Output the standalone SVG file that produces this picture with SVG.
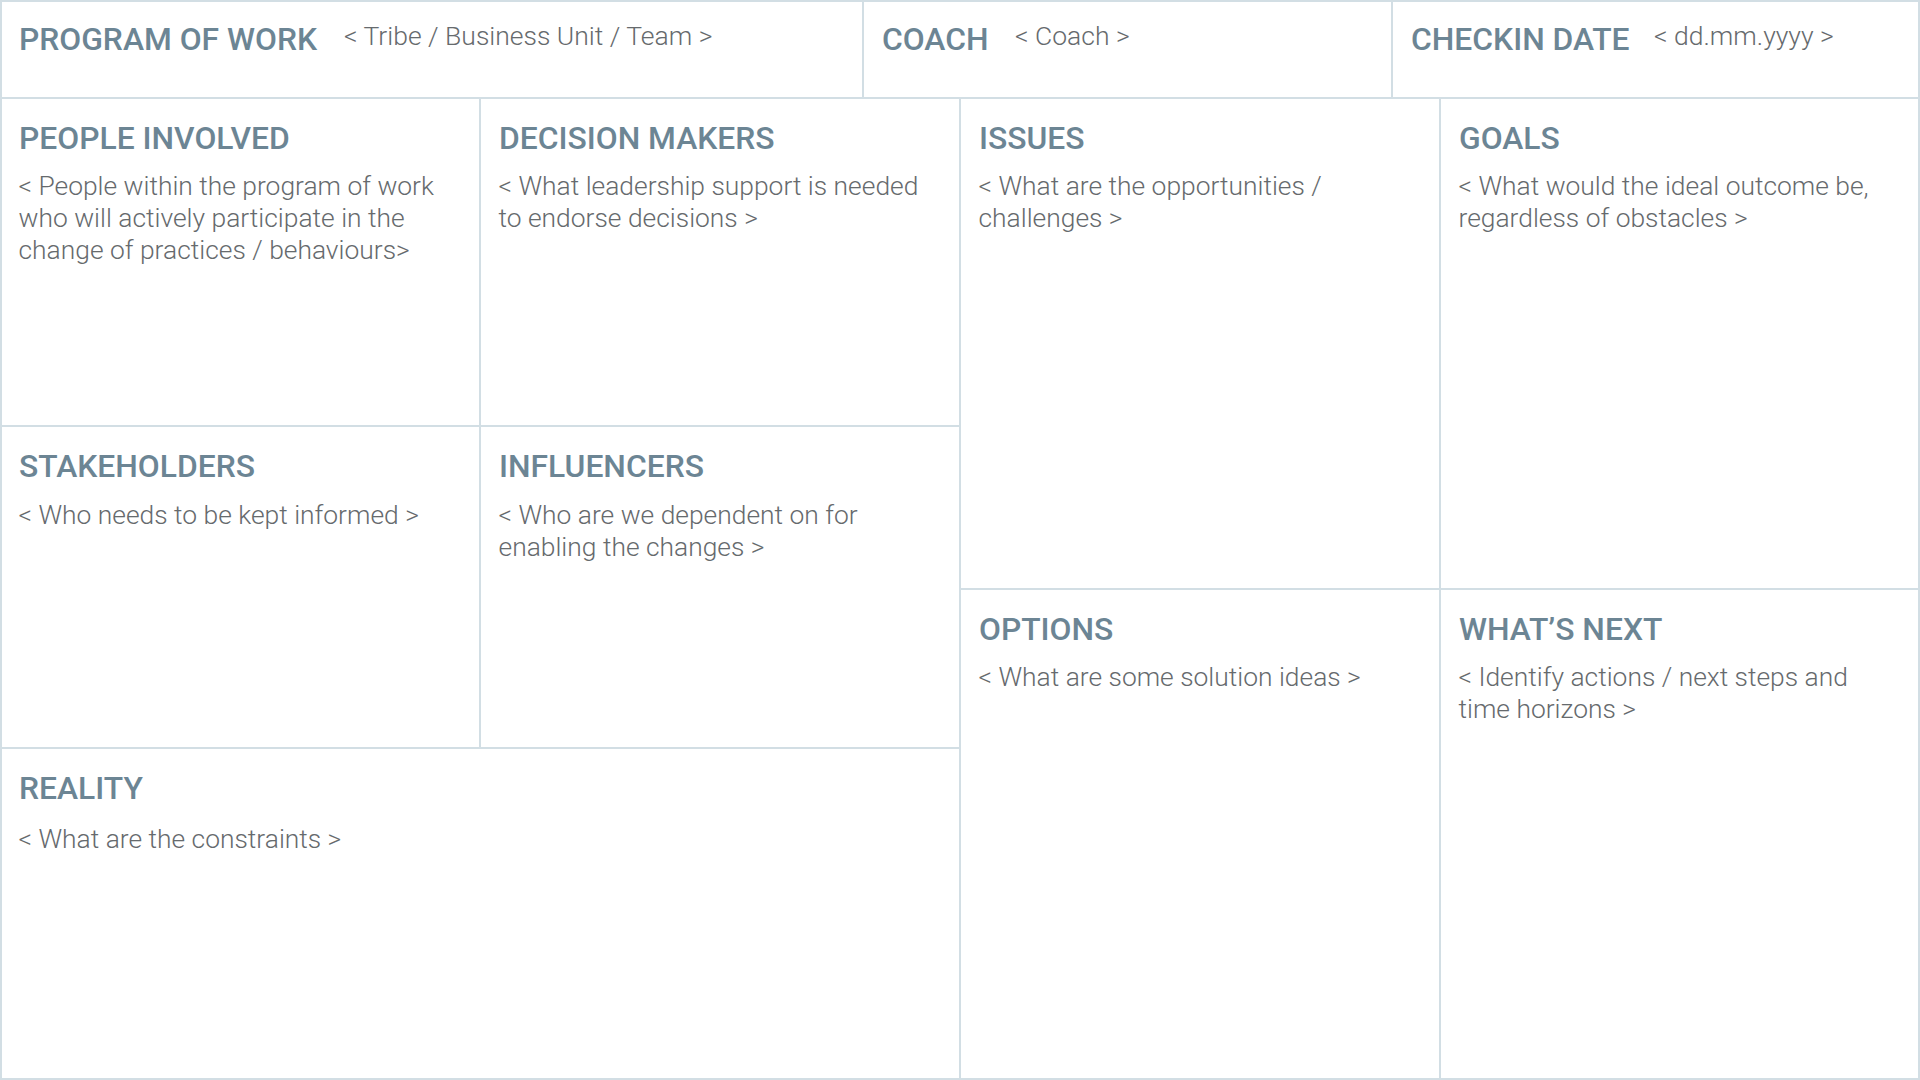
<svg xmlns="http://www.w3.org/2000/svg" width="1920" height="1080" viewBox="0 0 1920 1080">
  <style>
    .cell { fill: #ffffff; stroke: #d2dee4; stroke-width: 2; }
    .h { font-family: Roboto, "Liberation Sans", sans-serif; font-weight: 500; font-size: 31.8px; fill: #6c8594; }
    .b { font-family: Roboto, "Liberation Sans", sans-serif; font-weight: 300; font-size: 26.4px; fill: #666a6d; }
    .hb { font-size: 26.5px; }
  </style>
  <rect x="0" y="0" width="1920" height="1080" fill="#ffffff"/>

  <g id="program-of-work">
    <rect class="cell" x="1" y="1" width="862" height="97"/>
    <text class="h" x="19" y="50">PROGRAM OF WORK</text>
    <text class="b hb" x="344" y="45">&lt; Tribe / Business Unit / Team &gt;</text>
  </g>
  <g id="coach">
    <rect class="cell" x="863" y="1" width="529" height="97"/>
    <text class="h" x="882" y="50">COACH</text>
    <text class="b hb" x="1015" y="45">&lt; Coach &gt;</text>
  </g>
  <g id="checkin-date">
    <rect class="cell" x="1392" y="1" width="527" height="97"/>
    <text class="h" x="1411" y="50">CHECKIN DATE</text>
    <text class="b hb" x="1654" y="45">&lt; dd.mm.yyyy &gt;</text>
  </g>

  <g id="people-involved">
    <rect class="cell" x="1" y="98" width="479" height="328"/>
    <text class="h" x="19" y="149">PEOPLE INVOLVED</text>
    <text class="b" x="18.5" y="195">&lt; People within the program of work</text>
    <text class="b" x="18.5" y="227">who will actively participate in the</text>
    <text class="b" x="18.5" y="259">change of practices / behaviours&gt;</text>
  </g>
  <g id="decision-makers">
    <rect class="cell" x="480" y="98" width="480" height="328"/>
    <text class="h" x="499" y="149">DECISION MAKERS</text>
    <text class="b" x="498.5" y="195">&lt; What leadership support is needed</text>
    <text class="b" x="498.5" y="227">to endorse decisions &gt;</text>
  </g>
  <g id="stakeholders">
    <rect class="cell" x="1" y="426" width="479" height="322"/>
    <text class="h" x="19" y="477">STAKEHOLDERS</text>
    <text class="b" x="18.5" y="524">&lt; Who needs to be kept informed &gt;</text>
  </g>
  <g id="influencers">
    <rect class="cell" x="480" y="426" width="480" height="322"/>
    <text class="h" x="499" y="477">INFLUENCERS</text>
    <text class="b" x="498.5" y="524">&lt; Who are we dependent on for</text>
    <text class="b" x="498.5" y="556">enabling the changes &gt;</text>
  </g>
  <g id="reality">
    <rect class="cell" x="1" y="748" width="959" height="331"/>
    <text class="h" x="19" y="799">REALITY</text>
    <text class="b" x="18.5" y="848">&lt; What are the constraints &gt;</text>
  </g>
  <g id="issues">
    <rect class="cell" x="960" y="98" width="480" height="491"/>
    <text class="h" x="979" y="149">ISSUES</text>
    <text class="b" x="978.5" y="195">&lt; What are the opportunities /</text>
    <text class="b" x="978.5" y="227">challenges &gt;</text>
  </g>
  <g id="goals">
    <rect class="cell" x="1440" y="98" width="479" height="491"/>
    <text class="h" x="1459" y="149">GOALS</text>
    <text class="b" x="1458.5" y="195">&lt; What would the ideal outcome be,</text>
    <text class="b" x="1458.5" y="227">regardless of obstacles &gt;</text>
  </g>
  <g id="options">
    <rect class="cell" x="960" y="589" width="480" height="490"/>
    <text class="h" x="979" y="640">OPTIONS</text>
    <text class="b" x="978.5" y="686">&lt; What are some solution ideas &gt;</text>
  </g>
  <g id="whats-next">
    <rect class="cell" x="1440" y="589" width="479" height="490"/>
    <text class="h" x="1459" y="640">WHAT’S NEXT</text>
    <text class="b" x="1458.5" y="686">&lt; Identify actions / next steps and</text>
    <text class="b" x="1458.5" y="718">time horizons &gt;</text>
  </g>
</svg>
